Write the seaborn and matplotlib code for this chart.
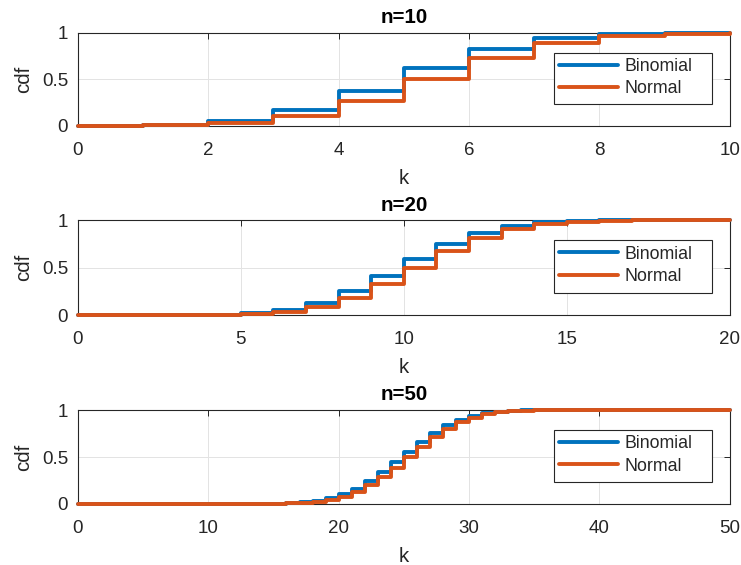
import numpy as np
import pandas as pd
import seaborn as sns
import matplotlib
matplotlib.use("Agg")
import matplotlib.pyplot as plt
from matplotlib.patches import Rectangle

# ---- data (cdf values at integer k) ----
k10 = list(range(0, 11))
binom10 = [0.001, 0.011, 0.055, 0.172, 0.377, 0.623, 0.828, 0.945, 0.989, 0.999, 1.0]
normal10 = [0.001, 0.006, 0.029, 0.103, 0.264, 0.500, 0.736, 0.897, 0.971, 0.994, 0.999]

k20 = list(range(0, 21))
binom20 = [0.0, 0.0, 0.0002, 0.0013, 0.0059, 0.0207, 0.0577, 0.1316, 0.2517, 0.4119,
           0.5881, 0.7483, 0.8684, 0.9423, 0.9793, 0.9941, 0.9987, 0.9998, 1.0, 1.0, 1.0]
normal20 = [0.0, 0.0, 0.0002, 0.0009, 0.0036, 0.0127, 0.0368, 0.0899, 0.1855, 0.3274,
            0.5, 0.6726, 0.8145, 0.9101, 0.9632, 0.9873, 0.9964, 0.9991, 0.9998, 1.0, 1.0]

k50 = list(range(0, 51))
binom50 = [0.0, 0.0, 0.0, 0.0, 0.0, 0.0, 0.0, 0.0, 0.0, 0.0,
           0.0, 0.0001, 0.0002, 0.0005, 0.0013, 0.0033, 0.0077, 0.0164, 0.0325, 0.0595,
           0.1013, 0.1611, 0.2399, 0.3359, 0.4439, 0.5561, 0.6641, 0.7601, 0.8389, 0.8987,
           0.9405, 0.9675, 0.9836, 0.9923, 0.9967, 0.9987, 0.9995, 0.9998, 1.0, 1.0,
           1.0, 1.0, 1.0, 1.0, 1.0, 1.0, 1.0, 1.0, 1.0, 1.0, 1.0]
normal50 = [0.0, 0.0, 0.0, 0.0, 0.0, 0.0, 0.0, 0.0, 0.0, 0.0,
            0.0, 0.0, 0.0001, 0.0003, 0.0009, 0.0023, 0.0055, 0.0118, 0.0239, 0.0448,
            0.0786, 0.1290, 0.1981, 0.2858, 0.3886, 0.5, 0.6114, 0.7142, 0.8019, 0.8710,
            0.9214, 0.9552, 0.9761, 0.9882, 0.9945, 0.9977, 0.9991, 0.9997, 0.9999, 1.0,
            1.0, 1.0, 1.0, 1.0, 1.0, 1.0, 1.0, 1.0, 1.0, 1.0, 1.0]

panels = [("n=10", k10, binom10, normal10, [0, 2, 4, 6, 8, 10]),
          ("n=20", k20, binom20, normal20, [0, 5, 10, 15, 20]),
          ("n=50", k50, binom50, normal50, [0, 10, 20, 30, 40, 50])]

sns.set_theme(style="white")
plt.rcParams['font.family'] = ['Liberation Sans', 'DejaVu Sans']

palette = {"Binomial": "#0072BD", "Normal": "#D95319"}

fig = plt.figure(figsize=(7.41, 5.65), dpi=100)
rects = [(0.105, 0.777, 0.880, 0.1646),
         (0.105, 0.442, 0.880, 0.168),
         (0.105, 0.108, 0.880, 0.166)]

for (title, ks, b, nrm, xt), r in zip(panels, rects):
    ax = fig.add_axes(r)
    df = pd.DataFrame({
        "k": list(ks) + list(ks),
        "cdf": list(b) + list(nrm),
        "dist": ["Binomial"] * len(ks) + ["Normal"] * len(ks),
    })
    sns.lineplot(data=df, x="k", y="cdf", hue="dist", palette=palette,
                 drawstyle="steps-post", linewidth=2.8, ax=ax, errorbar=None,
                 estimator=None, sort=True, clip_on=False, zorder=5)
    ax.set_xlim(ks[0], ks[-1])
    ax.set_ylim(0, 1)
    ax.set_xticks(xt)
    ax.set_yticks([0, 0.5, 1])
    ax.set_yticklabels(["0", "0.5", "1"])
    ax.grid(True, color="#e3e3e3", linewidth=0.7)
    ax.set_axisbelow(True)
    for s in ax.spines.values():
        s.set_color("#262626")
        s.set_linewidth(0.8)
        s.set_visible(True)
        s.set_zorder(2)
    ax.tick_params(direction="in", length=4.5, width=0.7, colors="#262626",
                   labelsize=13.5, top=True, right=True, labelcolor="#262626")
    ax.tick_params(axis="x", pad=11.3)
    ax.tick_params(axis="y", pad=7)
    ax.set_title(title, fontsize=14.8, fontweight="bold", pad=7, color="black")
    ax.set_xlabel("k", fontsize=14.8, labelpad=7.5, color="#262626")
    ax.set_ylabel("cdf", fontsize=14.8, labelpad=6, color="#262626")
    # legend frame (MATLAB-style box with wider right margin)
    ax.add_patch(Rectangle((0.730, 0.235), 0.242, 0.555, transform=ax.transAxes,
                           facecolor="white", edgecolor="#262626", linewidth=0.8,
                           zorder=8, clip_on=False))
    leg = ax.legend(loc="upper left", bbox_to_anchor=(0.730, 0.79),
                    fontsize=12.8, frameon=False, handlelength=3.3, borderpad=0.3,
                    labelspacing=0.3, handletextpad=0.35, borderaxespad=0)
    leg.set_zorder(10)
    for line in leg.get_lines():
        line.set_linewidth(2.8)

fig.savefig("out.png", dpi=100)
